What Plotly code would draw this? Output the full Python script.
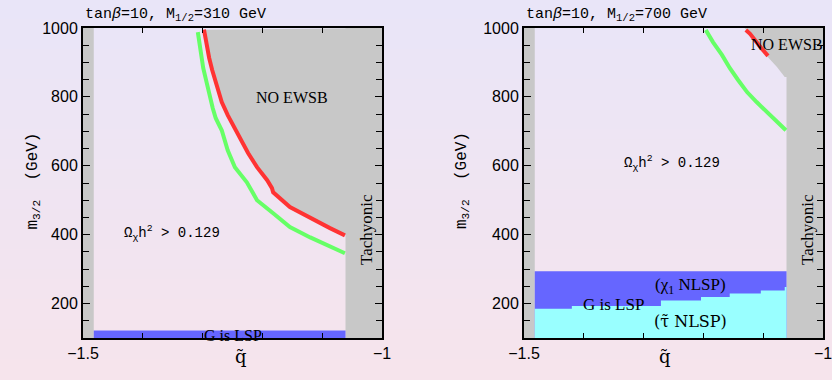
import plotly.graph_objects as go

# ---------------- data ----------------
# Left panel (M1/2 = 310 GeV)
red_L_q = [-1.2977, -1.2943, -1.289, -1.284, -1.278, -1.273, -1.268, -1.258, -1.249, -1.237, -1.224, -1.209,
           -1.192, -1.184, -1.182, -1.154, -1.120, -1.087, -1.062]
red_L_m = [995, 956, 913, 878, 843, 814, 785, 747, 718, 674, 637, 596, 558, 535, 523, 480, 448, 419, 398]
green_L_q = [-1.308, -1.303, -1.299, -1.293, -1.288, -1.283, -1.278, -1.268, -1.258, -1.246, -1.226, -1.209,
             -1.182, -1.154, -1.120, -1.092, -1.062]
green_L_m = [988, 936, 884, 840, 800, 767, 738, 703, 645, 596, 552, 500, 462, 422, 392, 369, 346]
band_L_q = [-1.482, -1.061]
band_L_top = [122, 122]

# Right panel (M1/2 = 700 GeV)
green_R_q = [-1.196, -1.184, -1.169, -1.156, -1.142, -1.127, -1.111, -1.094, -1.077, -1.062]
green_R_m = [994, 959, 922, 884, 849, 814, 785, 756, 727, 703]
red_R_q = [-1.129, -1.122, -1.102, -1.092]
red_R_m = [994, 983, 939, 919]
ewsb_R_q = [-1.131, -1.092, -1.077, -1.064, -1.061]
ewsb_R_m = [1000, 915, 887, 858, 858]
blue_R_q = [-1.482, -1.061]
blue_R_top = [294, 294]
cyan_R_q = [-1.482, -1.42, -1.271, -1.204, -1.156, -1.104, -1.064, -1.061]
cyan_R_top = [185, 193, 209, 219, 229, 238, 248, 248]

q_min, q_max = -1.5, -1.0
m_min, m_max = 100, 1000
q_left_edge = -1.482
q_tachyonic = -1.061

xtick_vals = [-1.5, -1.0]
xtick_text = ["\u22121.5", "\u22121"]
ytick_vals = [200, 400, 600, 800, 1000]

GRAY = "#c8c8c8"
RED = "#ff3333"
GREEN = "#66ff66"
BLUE = "#6666ff"
CYAN = "#99ffff"

fig = go.Figure()

def add_panel(xa, ya, ewsb_q, ewsb_m, bands, curves):
    fig.add_trace(go.Scatter(x=[q_min, q_left_edge, q_left_edge, q_min], y=[m_min, m_min, m_max, m_max],
                             fill="toself", fillcolor=GRAY, mode="none", xaxis=xa, yaxis=ya, showlegend=False))
    fig.add_trace(go.Scatter(x=[q_tachyonic, q_max, q_max, q_tachyonic], y=[m_min, m_min, m_max, m_max],
                             fill="toself", fillcolor=GRAY, mode="none", xaxis=xa, yaxis=ya, showlegend=False))
    xs = list(ewsb_q) + [q_max, q_max]
    ys = list(ewsb_m) + [ewsb_m[-1], m_max]
    fig.add_trace(go.Scatter(x=xs, y=ys, fill="toself", fillcolor=GRAY, mode="none",
                             xaxis=xa, yaxis=ya, showlegend=False))
    for bq, btop, col, shape in bands:
        fig.add_trace(go.Scatter(x=bq, y=btop, mode="none", fill="tozeroy", fillcolor=col,
                                 line=dict(shape=shape), xaxis=xa, yaxis=ya, showlegend=False))
    for cq, cm, col in curves:
        fig.add_trace(go.Scatter(x=cq, y=cm, mode="lines", line=dict(color=col, width=4),
                                 xaxis=xa, yaxis=ya, showlegend=False))

add_panel("x", "y", red_L_q, red_L_m,
          [(band_L_q, band_L_top, BLUE, "hv")],
          [(green_L_q, green_L_m, GREEN), (red_L_q, red_L_m, RED)])
add_panel("x2", "y2", ewsb_R_q, ewsb_R_m,
          [(blue_R_q, blue_R_top, BLUE, "hv"), (cyan_R_q, cyan_R_top, CYAN, "hv")],
          [(green_R_q, green_R_m, GREEN), (red_R_q, red_R_m, RED)])

# background gradient (lavender -> pink)
shapes = []
n = 38
top = (233, 229, 248)
bot = (246, 228, 236)
for i in range(n):
    t = i / (n - 1)
    c = tuple(round(top[k] + (bot[k] - top[k]) * t) for k in range(3))
    shapes.append(dict(type="rect", xref="paper", yref="paper", x0=-0.2, x1=1.2,
                       y0=1 - (i + 1) / n - 0.002, y1=1 - i / n + 0.002,
                       fillcolor="rgb(%d,%d,%d)" % c, line=dict(width=0), layer="below"))

axis_common = dict(showgrid=False, zeroline=False, showline=True, linecolor="black", linewidth=2,
                   mirror="allticks", ticks="inside", tickcolor="black", automargin=False,
                   ticklabeloverflow="allow",
                   tickfont=dict(family="Liberation Sans", size=16, color="black"))

xaxis_cfg = dict(axis_common, range=[q_min, q_max], tickvals=xtick_vals, ticktext=xtick_text,
                 ticklen=5, tickwidth=1,
                 minor=dict(dtick=0.1, tick0=-1.5, ticklen=5, tickcolor="black", ticks="inside"))
yaxis_cfg = dict(axis_common, range=[m_min, m_max], tickvals=ytick_vals, ticklen=7, tickwidth=1,
                 minor=dict(dtick=50, tick0=0, ticklen=6, tickcolor="black", ticks="inside"))

ytop = 1 - 28 / 380
ybot = 1 - 338 / 380
fig.update_layout(
    width=832, height=380, margin=dict(l=0, r=0, t=0, b=0, autoexpand=False),
    paper_bgcolor="rgba(0,0,0,0)", plot_bgcolor="rgba(0,0,0,0)",
    shapes=shapes,
    xaxis=dict(xaxis_cfg, domain=[83 / 832, 382 / 832], anchor="y"),
    yaxis=dict(yaxis_cfg, domain=[ybot, ytop], anchor="x"),
    xaxis2=dict(xaxis_cfg, domain=[524 / 832, 823 / 832], anchor="y2"),
    yaxis2=dict(yaxis_cfg, domain=[ybot, ytop], anchor="x2"),
)

mono = "Liberation Mono"
serif = "Liberation Serif"
ann = []
def A(text, x, y, xref, yref, size=14, family=mono, **kw):
    d = dict(text=text, x=x, y=y, xref=xref, yref=yref, showarrow=False,
             font=dict(family=family, size=size, color="black"))
    d.update(kw)
    ann.append(d)

# panel titles
A("tan<i>\u03b2</i>=10, M<sub>1/2</sub>=310 GeV", 83 / 832, 1 - 15 / 380, "paper", "paper", size=15,
  xanchor="left", yanchor="middle")
A("tan<i>\u03b2</i>=10, M<sub>1/2</sub>=700 GeV", 524 / 832, 1 - 15 / 380, "paper", "paper", size=15,
  xanchor="left", yanchor="middle")
# axis titles
for xc in (21 / 832, 462 / 832):
    A("m<sub>3/2</sub>  (GeV)", xc, 1 - 181 / 380, "paper", "paper", size=16, textangle=-90)
for xc in (233 / 832, 673 / 832):
    A("q\u0303", xc, 1 - 369 / 380, "paper", "paper", size=18, family="DejaVu Serif")
# left panel labels
A("NO EWSB", -1.150, 799, "x", "y", size=16, family=serif)
A("\u03a9<sub>\u03c7</sub>h<sup>2</sup> &gt; 0.129", -1.352, 404, "x", "y", size=14)
A("G is LSP", -1.25, 106, "x", "y", size=16, family=serif)
A("Tachyonic", -1.027, 416, "x", "y", size=17, family=serif, textangle=-90)
# right panel labels
A("NO EWSB", -1.061, 953, "x2", "y2", size=16, family=serif)
A("\u03a9<sub>\u03c7</sub>h<sup>2</sup> &gt; 0.129", -1.252, 608, "x2", "y2", size=14)
A("(\u03c7<sub>1</sub> NLSP)", -1.222, 250, "x2", "y2", size=17, family=serif)
A("G is LSP", -1.351, 198, "x2", "y2", size=17, family=serif)
A("(\u03c4\u0303 NLSP)", -1.222, 148, "x2", "y2", size=16, family="DejaVu Serif")
A("Tachyonic", -1.027, 416, "x2", "y2", size=17, family=serif, textangle=-90)

fig.update_layout(annotations=ann)
fig.write_html("out.html")
